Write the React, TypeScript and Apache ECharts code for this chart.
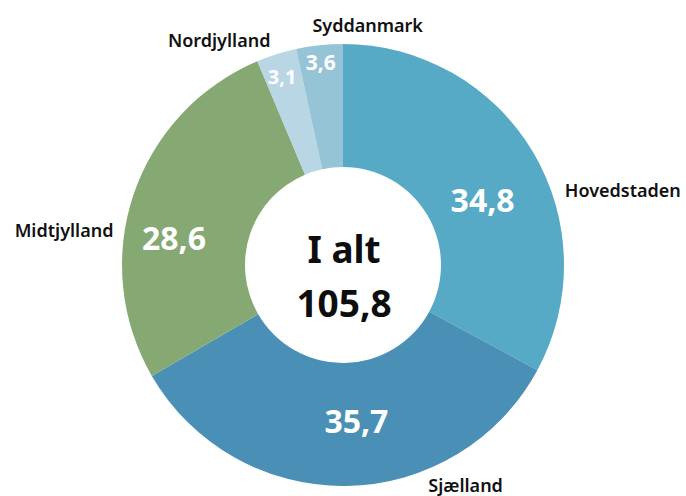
import React, { useEffect, useRef } from "react";
import * as echarts from "echarts";

const regions = ["Hovedstaden", "Sjælland", "Midtjylland", "Nordjylland", "Syddanmark"];
const values = [34.8, 35.7, 28.6, 3.1, 3.6];
const colors = ["#56aac5", "#4a8fb6", "#86a873", "#b9d6e4", "#95c4d7"];
const totalLabel = "I alt";

const fmt = (v: number) => v.toFixed(1).replace(".", ",");

// label shifts relative to ECharts' default pie label placement
const valueShift = [[0, 18], [11, -7], [-15, 24], [-12, -34], [-5, -41]];
const valueSize = [32, 32, 32, 20, 21];
const nameShift = [[27, 38], [77, -1], [-15, 35], [-1, -14], [-2, -20]];
const nameAlign = [null, null, null, null, "left"];

export default function App() {
  const ref = useRef<HTMLDivElement>(null);
  useEffect(() => {
    const chart = echarts.init(ref.current!, null, { renderer: "svg" });
    const total = values.reduce((a, b) => a + b, 0);
    const font = "'Noto Sans', sans-serif";
    const base = {
      type: "pie",
      center: [343, 265],
      radius: [98, 221],
      startAngle: 90,
      clockwise: true,
      avoidLabelOverlap: false,
      silent: true,
    };
    chart.setOption({
      animation: false,
      title: {
        text: totalLabel + "\n" + fmt(total),
        left: 339,
        top: 216,
        textAlign: "center",
        textStyle: {
          fontFamily: font,
          fontWeight: "bold",
          fontSize: 37,
          lineHeight: 54,
          color: "#0d0d0d",
        },
      },
      series: [
        {
          ...base,
          data: regions.map((name, i) => ({
            name,
            value: values[i],
            itemStyle: { color: colors[i] },
            label: { fontSize: valueSize[i] },
          })),
          label: {
            show: true,
            position: "inside",
            formatter: (p: any) => fmt(p.value),
            color: "#ffffff",
            fontFamily: font,
            fontWeight: "bold",
          },
          labelLine: { show: false },
          labelLayout: (p: any) => ({ dx: valueShift[p.dataIndex][0], dy: valueShift[p.dataIndex][1] }),
        },
        {
          ...base,
          z: 3,
          data: regions.map((name, i) => ({
            name,
            value: values[i],
            itemStyle: { color: "rgba(0,0,0,0)" },
          })),
          label: {
            show: true,
            position: "outside",
            formatter: "{b}",
            color: "#111111",
            fontFamily: font,
            fontWeight: 600,
            fontSize: 18,
          },
          labelLine: { show: false, length: 0, length2: 0 },
          labelLayout: (p: any) => {
            const o: any = { dx: nameShift[p.dataIndex][0], dy: nameShift[p.dataIndex][1] };
            if (nameAlign[p.dataIndex]) o.align = nameAlign[p.dataIndex];
            return o;
          },
        },
      ],
    });
    return () => chart.dispose();
  }, []);
  return (
    <div
      ref={ref}
      style={{ position: "fixed", left: 0, top: 0, width: 686, height: 496, background: "#ffffff" }}
    />
  );
}
